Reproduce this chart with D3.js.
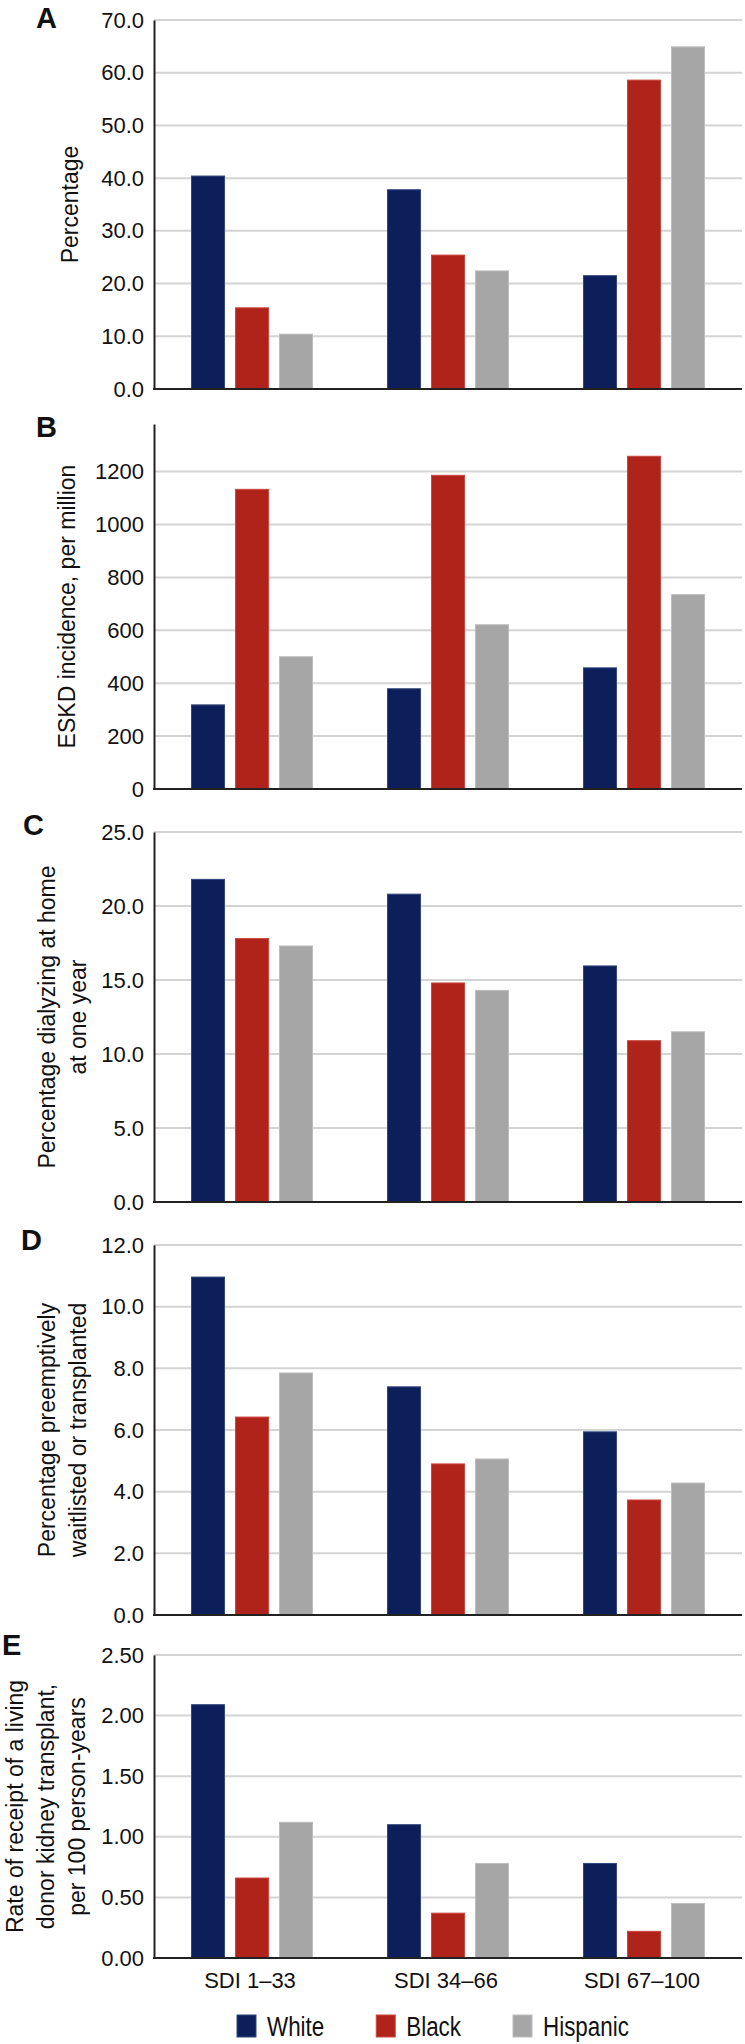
<!DOCTYPE html>
<html>
<head>
<meta charset="utf-8">
<script src="https://cdn.jsdelivr.net/npm/d3@7"></script>
<style>
  body { margin: 0; background: #fff; }
  svg { display: block; font-family: "Liberation Sans", Arial, Helvetica, sans-serif; }
</style>
</head>
<body>
<div id="chart"></div>
<script>
// categories and series
const categories = ["SDI 1–33", "SDI 34–66", "SDI 67–100"];
const seriesNames = ["White", "Black", "Hispanic"];
const seriesColors = ["#0c1f5b", "#b0231a", "#a6a6a6"];
const seriesEdges = ["#33467f", "#cc473e", "#bdbdbd"];

// values per category: [White, Black, Hispanic]
const valuesA = [[40.4, 15.4, 10.4], [37.8, 25.4, 22.4], [21.5, 58.6, 64.9]];
const valuesB = [[318, 1133, 500], [379, 1186, 621], [458, 1258, 735]];
const valuesC = [[21.8, 17.8, 17.3], [20.8, 14.8, 14.3], [15.95, 10.9, 11.5]];
const valuesD = [[10.96, 6.42, 7.85], [7.40, 4.90, 5.06], [5.94, 3.73, 4.28]];
const valuesE = [[2.09, 0.66, 1.12], [1.10, 0.37, 0.78], [0.78, 0.22, 0.45]];

// tick values
const ticksA = [0, 10, 20, 30, 40, 50, 60, 70];
const ticksB = [0, 200, 400, 600, 800, 1000, 1200];
const ticksC = [0, 5, 10, 15, 20, 25];
const ticksD = [0, 2, 4, 6, 8, 10, 12];
const ticksE = [0, 0.5, 1, 1.5, 2, 2.5];

const titlesA = ["Percentage"];
const titlesB = ["ESKD incidence, per million"];
const titlesC = ["Percentage dialyzing at home", "at one year"];
const titlesD = ["Percentage preemptively", "waitlisted or transplanted"];
const titlesE = ["Rate of receipt of a living", "donor kidney transplant,", "per 100 person-years"];

const width = 745, height = 2044;
const plotLeft = 154, plotRight = 742;

// layout of each panel (pixel placement only)
const panels = [
  { letter: "A", values: valuesA, ticks: ticksA, max: 70, fmt: d3.format(".1f"), title: titlesA, top: 20, bottom: 389, lx: 36, ly: 28, tx: 70 },
  { letter: "B", values: valuesB, ticks: ticksB, max: 1380, fmt: d3.format("d"), title: titlesB, top: 424, bottom: 789, lx: 36, ly: 437, tx: 67 },
  { letter: "C", values: valuesC, ticks: ticksC, max: 25, fmt: d3.format(".1f"), title: titlesC, top: 832, bottom: 1202, lx: 23, ly: 835, tx: 78 },
  { letter: "D", values: valuesD, ticks: ticksD, max: 12, fmt: d3.format(".1f"), title: titlesD, top: 1245, bottom: 1615, lx: 21, ly: 1250, tx: 78 },
  { letter: "E", values: valuesE, ticks: ticksE, max: 2.5, fmt: d3.format(".2f"), title: titlesE, top: 1655, bottom: 1958, lx: 2, ly: 1655, tx: 77 }
];

const svg = d3.select("#chart").append("svg")
  .attr("width", width)
  .attr("height", height);

const x0 = d3.scaleBand()
  .domain(categories)
  .range([plotLeft, plotRight]);

const x1 = d3.scaleBand()
  .domain(seriesNames)
  .range([0, 121])
  .paddingInner(0.25);

panels.forEach(p => {
  const y = d3.scaleLinear()
    .domain([0, p.max])
    .range([p.bottom, p.top]);

  const g = svg.append("g");

  // gridlines
  g.selectAll(".grid")
    .data(p.ticks.filter(t => t > 0))
    .enter().append("line")
    .attr("x1", plotLeft)
    .attr("x2", plotRight)
    .attr("y1", d => y(d))
    .attr("y2", d => y(d))
    .attr("stroke", "#d4d4d4")
    .attr("stroke-width", 2);

  // bars
  const groups = g.selectAll(".grp")
    .data(categories)
    .enter().append("g")
    .attr("transform", c => `translate(${x0(c) + x0.bandwidth() / 2 - 60.5},0)`);

  groups.selectAll("rect")
    .data((c, i) => seriesNames.map((s, j) => ({ s, j, v: p.values[i][j] })))
    .enter().append("rect")
    .attr("x", d => x1(d.s))
    .attr("width", x1.bandwidth())
    .attr("y", d => y(d.v))
    .attr("height", d => y(0) - y(d.v))
    .attr("fill", d => seriesColors[d.j])
    .attr("stroke", d => seriesEdges[d.j])
    .attr("stroke-width", 1);

  // y axis
  const axis = g.append("g")
    .attr("transform", `translate(${plotLeft},0)`)
    .call(d3.axisLeft(y).tickValues(p.ticks).tickFormat(p.fmt).tickSize(0).tickSizeOuter(0).tickPadding(10));
  axis.select(".domain").attr("stroke", "#222").attr("stroke-width", 2);
  axis.selectAll("text")
    .attr("font-size", 22)
    .attr("fill", "#111")
    .style("font-family", "'Liberation Sans', Arial, sans-serif");

  // baseline
  g.append("line")
    .attr("x1", plotLeft - 1)
    .attr("x2", plotRight)
    .attr("y1", y(0))
    .attr("y2", y(0))
    .attr("stroke", "#222")
    .attr("stroke-width", 2);

  // axis title
  const cy = (p.top + p.bottom) / 2;
  const n = p.title.length;
  p.title.forEach((line, k) => {
    g.append("text")
      .attr("transform", `translate(${p.tx - (n - 1 - k) * 31},${cy}) rotate(-90)`)
      .attr("text-anchor", "middle")
      .attr("dominant-baseline", "central")
      .attr("font-size", 23)
      .attr("fill", "#111")
      .text(line);
  });

  // panel letter
  g.append("text")
    .attr("x", p.lx)
    .attr("y", p.ly)
    .attr("font-size", 29)
    .attr("font-weight", "bold")
    .attr("fill", "#111")
    .text(p.letter);
});

// category labels under the last panel
const last = panels[panels.length - 1];
svg.selectAll(".cat")
  .data(categories)
  .enter().append("text")
  .attr("x", c => x0(c) + x0.bandwidth() / 2 - 2)
  .attr("y", last.bottom + 30)
  .attr("text-anchor", "middle")
  .attr("font-size", 22)
  .attr("fill", "#111")
  .text(c => c);

// legend
const legend = svg.append("g").attr("transform", "translate(237,2015)");
let lx = 0;
seriesNames.forEach((s, i) => {
  const item = legend.append("g").attr("transform", `translate(${lx},0)`);
  item.append("rect")
    .attr("width", 19)
    .attr("height", 22)
    .attr("fill", seriesColors[i])
    .attr("stroke", seriesEdges[i])
    .attr("stroke-width", 1);
  const t = item.append("text")
    .attr("transform", "translate(30,21) scale(0.8,1)")
    .attr("font-size", 28)
    .attr("fill", "#111")
    .text(s);
  lx += 30 + t.node().getComputedTextLength() * 0.8 + 52;
});
</script>
</body>
</html>
